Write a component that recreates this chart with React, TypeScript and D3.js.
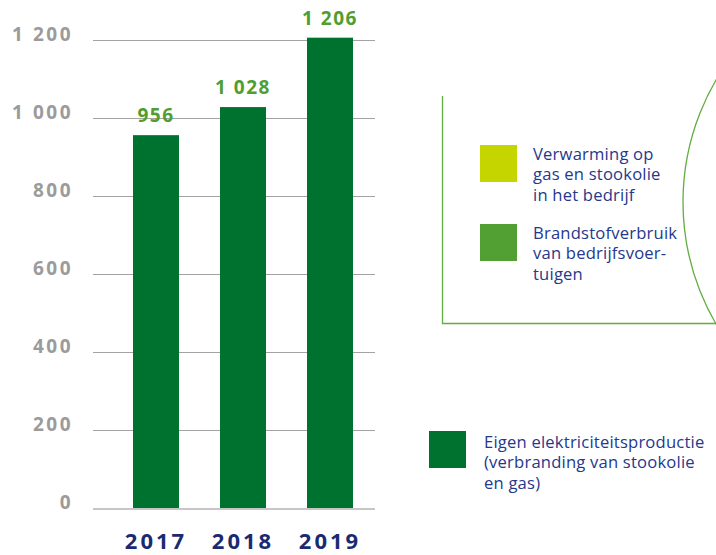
import React, { useEffect, useRef } from 'react';
import * as d3 from 'd3';

// data
const years = ['2017', '2018', '2019'];
const values = [956, 1028, 1206];
const yTicks = [0, 200, 400, 600, 800, 1000, 1200];

const legendTop = [
    { color: '#c5d500', lines: ['Verwarming op', 'gas en stookolie', 'in het bedrijf'] },
    { color: '#52a034', lines: ['Brandstofverbruik', 'van bedrijfsvoer-', 'tuigen'] },
];
const legendBottom = {
    color: '#00722f',
    lines: ['Eigen elektriciteitsproductie', '(verbranding van stookolie', 'en gas)'],
};

const fmt = (v: number) => (v >= 1000 ? `${Math.floor(v / 1000)} ${String(v % 1000).padStart(3, '0')}` : `${v}`);

const App = () => {
    const svgRef = useRef<SVGSVGElement>(null);

    useEffect(() => {
        const svg = d3.select(svgRef.current);
        svg.selectAll('*').remove();

        const width = 716;
        const height = 555;
        const font = '"Open Sans", "Noto Sans", sans-serif';

        svg.attr('width', width).attr('height', height);

        const x = d3.scaleBand<string>()
            .domain(years)
            .range([89.5, 396.5])
            .paddingInner(0.4713)
            .paddingOuter(0.5);

        const y = d3.scaleLinear().domain([0, 1200]).range([508, 40]);

        // gridlines
        svg.selectAll('.grid')
            .data(yTicks.filter(t => t > 0))
            .join('line')
            .attr('x1', 93)
            .attr('x2', 375)
            .attr('y1', d => y(d) + 0.5)
            .attr('y2', d => y(d) + 0.5)
            .attr('stroke', '#a3a3a3')
            .attr('stroke-width', 1);

        // y tick labels
        svg.selectAll('.ylab')
            .data(yTicks)
            .join('text')
            .attr('x', 73)
            .attr('y', d => y(d) + 1)
            .attr('text-anchor', 'end')
            .attr('font-family', font)
            .attr('font-weight', 700)
            .attr('font-size', 19)
            .attr('letter-spacing', 2.5)
            .attr('fill', '#9b9b9b')
            .text(d => fmt(d));

        // bars
        svg.selectAll('.bar')
            .data(values)
            .join('rect')
            .attr('x', (d, i) => x(years[i])!)
            .attr('y', d => y(d))
            .attr('width', x.bandwidth())
            .attr('height', d => y(0) - y(d))
            .attr('fill', '#00722f');

        // baseline
        svg.append('line')
            .attr('x1', 93)
            .attr('x2', 375)
            .attr('y1', y(0) + 1)
            .attr('y2', y(0) + 1)
            .attr('stroke', '#c6c6c6')
            .attr('stroke-width', 2);

        // value labels
        svg.selectAll('.val')
            .data(values)
            .join('text')
            .attr('x', (d, i) => x(years[i])! + x.bandwidth() / 2)
            .attr('y', d => y(d) - 13)
            .attr('text-anchor', 'middle')
            .attr('font-family', font)
            .attr('font-weight', 700)
            .attr('font-size', 19)
            .attr('letter-spacing', 1.5)
            .attr('fill', '#4f9e2f')
            .text(d => fmt(d));

        // year labels
        svg.selectAll('.year')
            .data(years)
            .join('text')
            .attr('x', d => x(d)! + x.bandwidth() / 2)
            .attr('y', 549)
            .attr('text-anchor', 'middle')
            .attr('font-family', font)
            .attr('font-weight', 700)
            .attr('font-size', 22)
            .attr('letter-spacing', 3)
            .attr('fill', '#1a2a72')
            .text(d => d);

        // legend frame with arc
        svg.append('path')
            .attr('d', 'M442.5,96 L442.5,323.5 L716,323.5')
            .attr('fill', 'none')
            .attr('stroke', '#62ad3f')
            .attr('stroke-width', 1.3);

        svg.append('circle')
            .attr('cx', 925)
            .attr('cy', 202)
            .attr('r', 242)
            .attr('fill', 'none')
            .attr('stroke', '#62ad3f')
            .attr('stroke-width', 1.3);

        const drawItem = (item: { color: string; lines: string[] }, sx: number, sy: number, tx: number, ty: number) => {
            svg.append('rect')
                .attr('x', sx)
                .attr('y', sy)
                .attr('width', 37)
                .attr('height', 37)
                .attr('fill', item.color);
            const t = svg.append('text')
                .attr('font-family', font)
                .attr('font-size', 16.6)
                .attr('letter-spacing', 0.2)
                .attr('fill', '#25388c');
            item.lines.forEach((l, i) => {
                t.append('tspan').attr('x', tx).attr('y', ty + i * 20.3).text(l);
            });
        };

        drawItem(legendTop[0], 480, 145, 533, 160);
        drawItem(legendTop[1], 480, 224, 533, 239);
        drawItem(legendBottom, 429, 431, 484, 448);
    }, []);

    return (
        <div style={{ position: 'absolute', left: 0, top: 0 }}>
            <svg ref={svgRef} style={{ display: 'block' }}></svg>
        </div>
    );
};

export default App;
